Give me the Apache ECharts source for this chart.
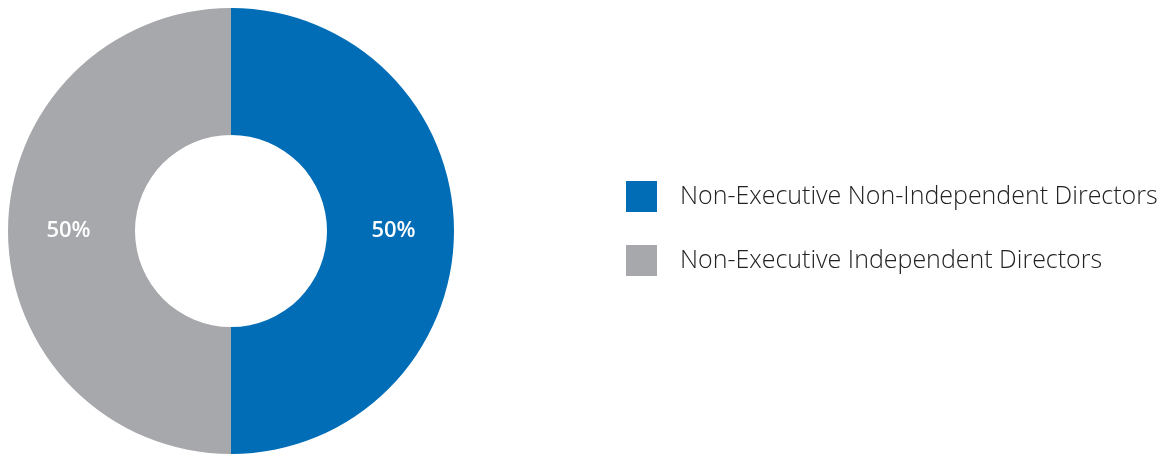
<!DOCTYPE html>
<html>
<head>
<meta charset="utf-8">
<script src="https://cdn.jsdelivr.net/npm/echarts@6/dist/echarts.min.js"></script>
<style>
  html, body { margin: 0; padding: 0; background: #fff; }
  #chart { width: 1168px; height: 454px; }
</style>
</head>
<body>
<div id="chart"></div>
<script>
// board composition
const categories = ['Non-Executive Non-Independent Directors', 'Non-Executive Independent Directors'];
const values = [50, 50];
const colors = ['#006db6', '#a7a8ab'];

const chart = echarts.init(document.getElementById('chart'));

chart.setOption({
  animation: false,
  color: colors,
  legend: {
    orient: 'vertical',
    left: 626,
    top: 181,
    padding: 0,
    itemWidth: 31,
    itemHeight: 31,
    itemGap: 33,
    icon: 'rect',
    data: categories,
    textStyle: {
      fontFamily: 'Open Sans',
      fontWeight: 300,
      fontSize: 25,
      color: '#222',
      padding: [3, 0, 0, 18]
    }
  },
  series: [
    {
      type: 'pie',
      center: [231, 231],
      radius: [96, 223],
      startAngle: 90,
      clockwise: true,
      data: categories.map(function (name, i) {
        return { name: name, value: values[i] };
      }),
      label: {
        show: true,
        position: 'inside',
        formatter: '{c}%',
        color: '#fff',
        fontFamily: 'Open Sans',
        fontWeight: 600,
        fontSize: 22
      },
      labelLine: { show: false },
      itemStyle: { borderWidth: 0 },
      emphasis: { disabled: true }
    }
  ]
});
</script>
</body>
</html>
